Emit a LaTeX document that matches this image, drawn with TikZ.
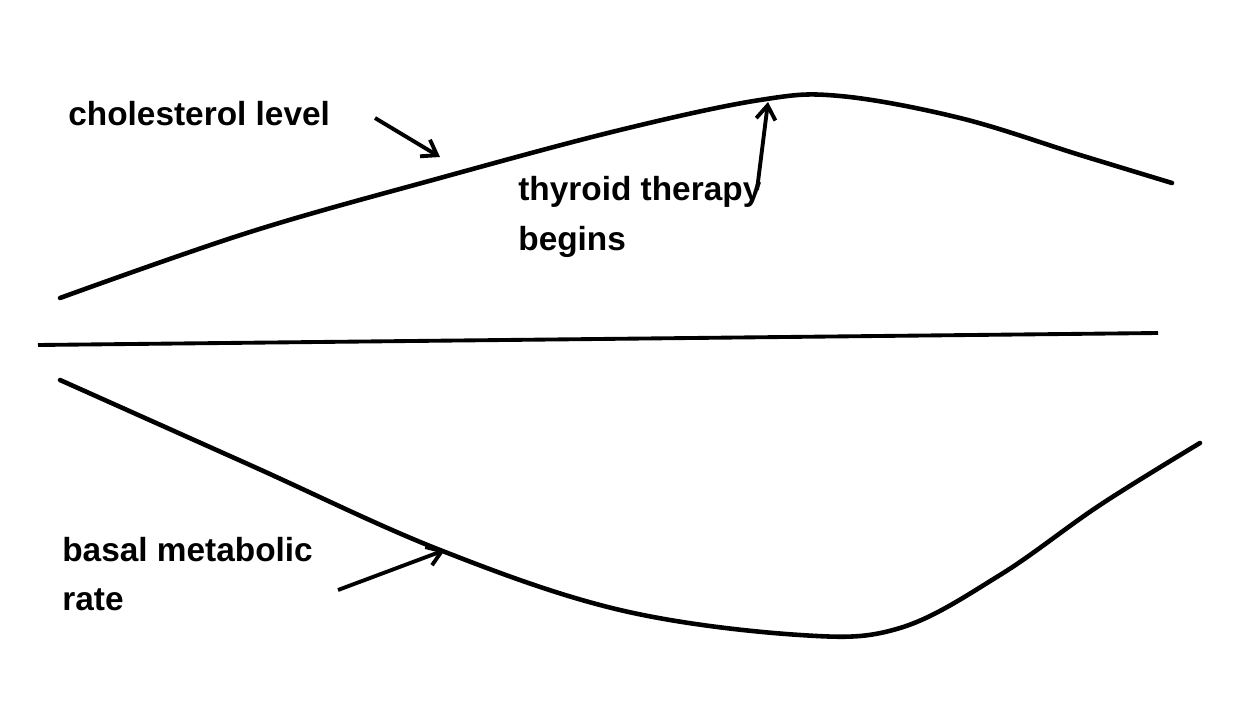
\documentclass[tikz,border=0pt]{standalone}
\usepackage{fontspec}
\setmainfont{Liberation Sans}
\usetikzlibrary{arrows.meta}
\begin{document}
\begin{tikzpicture}[x=0.02cm,y=-0.02cm,
  curve/.style={line width=2.6pt,line cap=round},
  lbl/.style={font=\bfseries\fontsize{19}{28}\selectfont,anchor=west,align=left,inner sep=0pt},
  ptr/.style={line width=2.2pt,-{Straight Barb[length=8pt,width=11pt]}}]
\fill[white] (0,0) rectangle (1258,706);
\useasboundingbox (0,0) rectangle (1258,706);
\draw[curve] plot[smooth,tension=0.6] coordinates {(60,298) (250,232) (440,178) (620,130) (760,100) (840,96) (960,118) (1080,155) (1172,183)};
\draw[line width=2.2pt] (38,345) -- (1158,333);
\draw[curve] plot[smooth,tension=0.6] coordinates {(60,380) (250,465) (440,550) (620,610) (800,635) (900,628) (1000,575) (1100,505) (1200,443)};
\node[lbl] (chol) at (68,114) {cholesterol level};
\node[lbl,align=left] (thy) at (518,217) {thyroid therapy\\begins};
\node[lbl] (bmr) at (62,574) {basal metabolic\\rate};
\coordinate (c1) at (375,118); \coordinate (c2) at (440,157);
\coordinate (t1) at (757,190); \coordinate (t2) at (768,102);
\coordinate (b1) at (338,590); \coordinate (b2) at (445,550);
\draw[ptr] (c1) -- (c2);
\draw[ptr] (t1) -- (t2);
\draw[ptr] (b1) -- (b2);
\end{tikzpicture}
\end{document}
